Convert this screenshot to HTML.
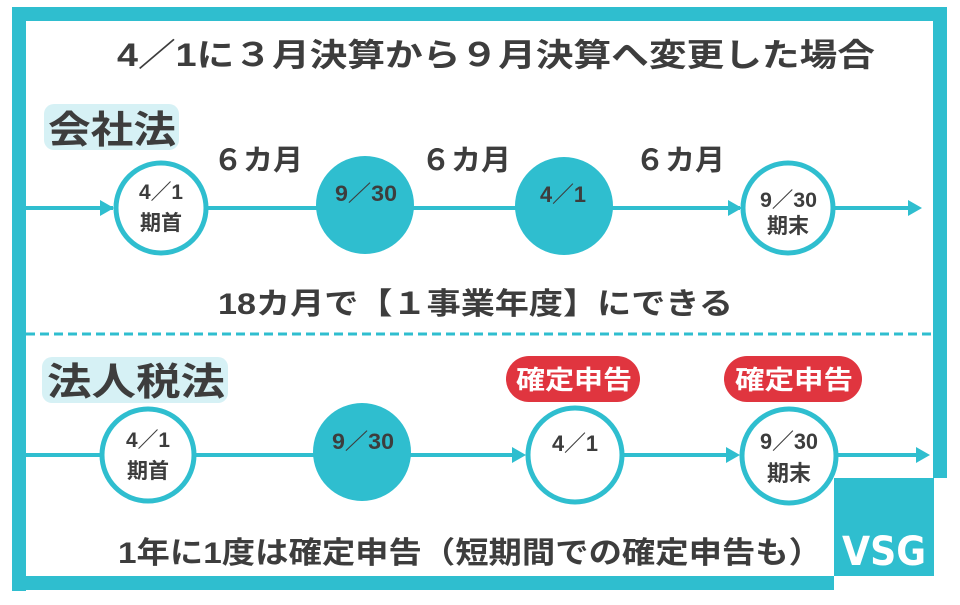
<!DOCTYPE html>
<html><head><meta charset="utf-8"><style>
body{margin:0;width:960px;height:600px;background:#fff;overflow:hidden}
svg text{font-family:"Liberation Sans","Noto Sans CJK JP",sans-serif;font-weight:bold;fill:#3d3d3d}
</style></head><body>
<svg width="960" height="600" viewBox="0 0 960 600">
<!-- frame -->
<path d="M19,591 V14 H940 V478" fill="none" stroke="#2fbecf" stroke-width="14"/>
<line x1="12" y1="583" x2="834" y2="583" stroke="#2fbecf" stroke-width="14"/>
<rect x="834" y="478" width="100" height="98" fill="#2fbecf"/>
<text x="884" y="565" text-anchor="middle" font-size="40" textLength="84" lengthAdjust="spacingAndGlyphs" style="fill:#fff;font-family:'DejaVu Sans Condensed','Liberation Sans',sans-serif">VSG</text>
<text x="117" y="66" font-size="32" textLength="758" lengthAdjust="spacingAndGlyphs">4／1に３月決算から９月決算へ変更した場合</text>
<!-- row 1 -->
<rect x="44" y="104" width="135" height="46" rx="10" fill="#d6f1f5"/>
<text x="48" y="143" font-size="38" textLength="128" lengthAdjust="spacingAndGlyphs">会社法</text>
<text x="213" y="170" font-size="29" textLength="90" lengthAdjust="spacingAndGlyphs">６カ月</text>
<text x="421" y="170" font-size="29" textLength="90" lengthAdjust="spacingAndGlyphs">６カ月</text>
<text x="635" y="170" font-size="29" textLength="90" lengthAdjust="spacingAndGlyphs">６カ月</text>
<line x1="26" y1="208" x2="113" y2="208" stroke="#2fbecf" stroke-width="4"/>
<path d="M100,200 L114,208 L100,216z" fill="#2fbecf"/>
<line x1="206" y1="208" x2="740" y2="208" stroke="#2fbecf" stroke-width="4"/>
<path d="M728,200 L742,208 L728,216z" fill="#2fbecf"/>
<line x1="835" y1="208" x2="912" y2="208" stroke="#2fbecf" stroke-width="4"/>
<path d="M908,200 L922,208 L908,216z" fill="#2fbecf"/>
<circle cx="161" cy="208" r="45" fill="#fff" stroke="#2fbecf" stroke-width="5"/>
<text x="139" y="199" font-size="21" textLength="44" lengthAdjust="spacingAndGlyphs">4／1</text>
<text x="161" y="230" text-anchor="middle" font-size="21">期首</text>
<circle cx="365" cy="205" r="49" fill="#2fbecf"/>
<text x="335" y="201" font-size="22" textLength="62" lengthAdjust="spacingAndGlyphs">9／30</text>
<circle cx="564" cy="206" r="49" fill="#2fbecf"/>
<text x="540" y="202" font-size="22" textLength="46" lengthAdjust="spacingAndGlyphs">4／1</text>
<circle cx="788" cy="208" r="45" fill="#fff" stroke="#2fbecf" stroke-width="5"/>
<text x="760" y="207" font-size="21" textLength="57" lengthAdjust="spacingAndGlyphs">9／30</text>
<text x="788" y="233" text-anchor="middle" font-size="21">期末</text>
<text x="218" y="314" font-size="30" textLength="515" lengthAdjust="spacingAndGlyphs">18カ月で【１事業年度】にできる</text>
<line x1="26" y1="334" x2="934" y2="334" stroke="#2fbecf" stroke-width="3" stroke-dasharray="9,5"/>
<!-- row 2 -->
<rect x="42" y="357" width="186" height="46" rx="10" fill="#d6f1f5"/>
<text x="47" y="395" font-size="38" textLength="178" lengthAdjust="spacingAndGlyphs">法人税法</text>
<rect x="506" y="356" width="134" height="46" rx="23" fill="#e0353f"/>
<text x="516" y="389" font-size="26" textLength="116" lengthAdjust="spacingAndGlyphs" style="fill:#fff">確定申告</text>
<rect x="724" y="356" width="138" height="46" rx="23" fill="#e0353f"/>
<text x="735" y="389" font-size="26" textLength="118" lengthAdjust="spacingAndGlyphs" style="fill:#fff">確定申告</text>
<line x1="26" y1="455" x2="100" y2="455" stroke="#2fbecf" stroke-width="4"/>
<line x1="196" y1="455" x2="520" y2="455" stroke="#2fbecf" stroke-width="4"/>
<path d="M512,447 L526,455 L512,463z" fill="#2fbecf"/>
<line x1="624" y1="455" x2="736" y2="455" stroke="#2fbecf" stroke-width="4"/>
<path d="M726,447 L740,455 L726,463z" fill="#2fbecf"/>
<line x1="838" y1="455" x2="918" y2="455" stroke="#2fbecf" stroke-width="4"/>
<path d="M916,447 L930,455 L916,463z" fill="#2fbecf"/>
<circle cx="148" cy="455" r="46" fill="#fff" stroke="#2fbecf" stroke-width="5"/>
<text x="126" y="447" font-size="21" textLength="44" lengthAdjust="spacingAndGlyphs">4／1</text>
<text x="148" y="478" text-anchor="middle" font-size="21">期首</text>
<circle cx="362" cy="452" r="49" fill="#2fbecf"/>
<text x="332" y="449" font-size="22" textLength="62" lengthAdjust="spacingAndGlyphs">9／30</text>
<circle cx="575" cy="455" r="47" fill="#fff" stroke="#2fbecf" stroke-width="5"/>
<text x="552" y="451" font-size="22" textLength="46" lengthAdjust="spacingAndGlyphs">4／1</text>
<circle cx="789" cy="456" r="47" fill="#fff" stroke="#2fbecf" stroke-width="5"/>
<text x="760" y="449" font-size="22" textLength="58" lengthAdjust="spacingAndGlyphs">9／30</text>
<text x="789" y="481" text-anchor="middle" font-size="22">期末</text>
<text x="118" y="563" font-size="30" textLength="704" lengthAdjust="spacingAndGlyphs">1年に1度は確定申告（短期間での確定申告も）</text>
</svg>
</body></html>
